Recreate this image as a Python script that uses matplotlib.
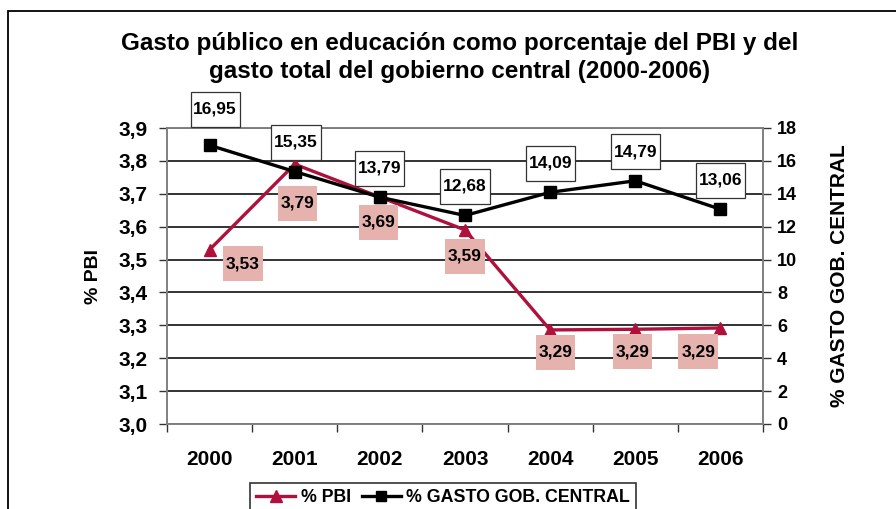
import numpy as np
import matplotlib.pyplot as plt
from matplotlib.ticker import FuncFormatter, FixedLocator
from matplotlib.patches import Rectangle
from matplotlib.lines import Line2D

plt.rcParams['font.family'] = ['Liberation Sans', 'DejaVu Sans']
plt.rcParams['font.weight'] = 'bold'

anios = ['2000', '2001', '2002', '2003', '2004', '2005', '2006']
pbi = [3.53, 3.79, 3.69, 3.59, 3.286, 3.288, 3.292]
pbi_etiquetas = [3.53, 3.79, 3.69, 3.59, 3.29, 3.29, 3.29]
gasto = [16.95, 15.35, 13.79, 12.68, 14.09, 14.79, 13.06]

# desplazamiento de las etiquetas (en puntos)
off_pbi = [(24, -10), (2, -28), (-1, -18), (0, -19), (4, -16), (-2, -16), (-16, -17)]
off_gasto = [(4, 26), (1, 21), (0, 21), (0, 21), (0, 21), (0, 21), (0, 21)]

ROJO = '#B0103C'
ROSA = '#E6B2AD'

fig = plt.figure(figsize=(8.96, 5.09), dpi=100)
ax = fig.add_axes([167/896, 1 - 424/509, (763-167)/896, (424-128)/509])
ax2 = ax.twinx()

x = np.arange(len(anios))

# rejilla
for v in np.arange(3.0, 3.95, 0.1):
    ax.axhline(v, color='#222222', lw=1.3, zorder=0)

ax.plot(x, pbi, color=ROJO, lw=2.4, marker='^', ms=9, zorder=3)
ax2.plot(x, gasto, color='black', lw=2.4, marker='s', ms=8.5, zorder=3)

ax.set_ylim(3.0, 3.9)
ax2.set_ylim(0, 18)
ax.set_xlim(-0.5, 6.5)
ax.set_yticks(np.arange(3.0, 3.95, 0.1))
ax2.set_yticks(np.arange(0, 19, 2))
ax.yaxis.set_major_formatter(FuncFormatter(lambda v, p: f"{v:.1f}".replace('.', ',')))

ax.set_xticks(x)
ax.set_xticklabels(anios, fontsize=15, fontweight='bold')
ax.xaxis.set_minor_locator(FixedLocator(np.arange(-0.5, 7, 1)))
ax.tick_params(axis='x', which='major', length=0, pad=19)
ax.tick_params(axis='x', which='minor', length=6, width=1, color='#333333')
ax.tick_params(axis='y', labelsize=15, length=6, width=1, color='#333333', pad=8)
ax2.tick_params(axis='y', labelsize=13, length=6, width=1, color='#333333', pad=4)
for t in ax.get_yticklabels() + ax2.get_yticklabels():
    t.set_fontweight('bold')

for a in (ax, ax2):
    for s in a.spines.values():
        s.set_color('#808080')
        s.set_linewidth(1.2)
    a.set_zorder(1)
ax2.patch.set_visible(False)

ax.set_ylabel('% PBI', fontsize=14, fontweight='bold', labelpad=12)
ax2.set_ylabel('% GASTO GOB. CENTRAL', fontsize=15, fontweight='bold', labelpad=24)

for i in range(len(anios)):
    ax.annotate(f"{pbi_etiquetas[i]:.2f}".replace('.', ','), (x[i], pbi[i]),
                xytext=off_pbi[i], textcoords='offset points', ha='center', va='center',
                fontsize=12.5, fontweight='bold', zorder=5,
                bbox=dict(boxstyle='square,pad=0.16', mutation_aspect=3.6, fc=ROSA, ec='none'))
    ax2.annotate(f"{gasto[i]:.2f}".replace('.', ','), (x[i], gasto[i]),
                 xytext=off_gasto[i], textcoords='offset points', ha='center', va='center',
                 fontsize=12.5, fontweight='bold', zorder=5,
                 bbox=dict(boxstyle='square,pad=0.16', mutation_aspect=3.6, fc='white',
                           ec='#333333', lw=0.9))

fig.text(0.513, 1 - 57.5/509, 'Gasto público en educación como porcentaje del PBI y del\n'
         'gasto total del gobierno central (2000-2006)', ha='center', va='center',
         fontsize=17.5, fontweight='bold', linespacing=1.25)

handles = [Line2D([], [], color=ROJO, lw=2.4, marker='^', ms=8),
           Line2D([], [], color='black', lw=2.4, marker='s', ms=7.5)]
leg = fig.legend(handles, ['% PBI', '% GASTO GOB. CENTRAL'], loc='upper center',
                 bbox_to_anchor=(443/896, 1 - 474/509), ncol=2, frameon=True,
                 fancybox=False, edgecolor='black', fontsize=12.8, handlelength=2.2,
                 handletextpad=0.3, columnspacing=0.6, borderpad=0.35)
leg.get_frame().set_linewidth(1.2)
for t in leg.get_texts():
    t.set_fontweight('bold')

fig.patches.append(Rectangle((8/896, -0.2), 1.2, 1.2 - 11/509, transform=fig.transFigure,
                             fill=False, ec='black', lw=1.3))

fig.savefig('out.png', dpi=100)
